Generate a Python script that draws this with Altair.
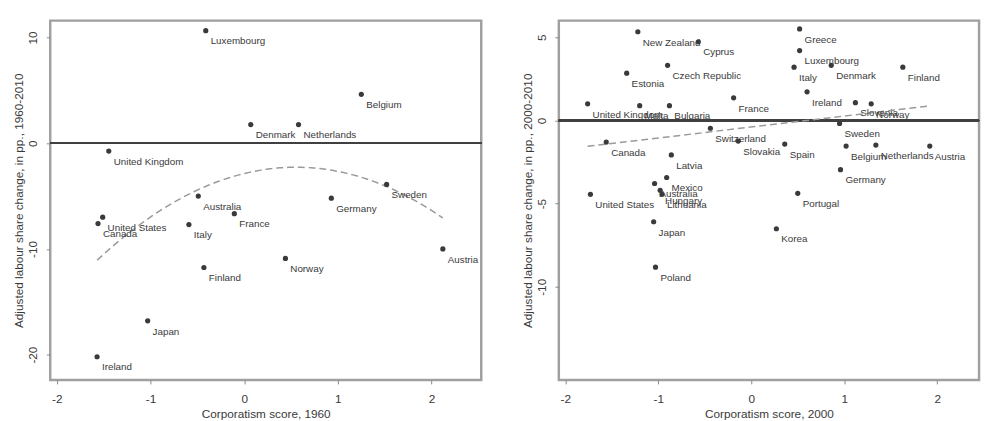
import altair as alt
import pandas as pd

# ---- Left panel: 1960 ----
left_countries = ["Luxembourg", "Belgium", "Denmark", "Netherlands", "United Kingdom",
                  "Australia", "Sweden", "Germany", "Canada", "United States", "Italy",
                  "France", "Finland", "Norway", "Austria", "Japan", "Ireland"]
left_x = [-0.41, 1.25, 0.07, 0.58, -1.445, -0.49, 1.52, 0.93, -1.56, -1.51, -0.59,
          -0.105, -0.43, 0.44, 2.12, -1.03, -1.57]
left_y = [10.65, 4.63, 1.76, 1.76, -0.74, -5.0, -3.9, -5.2, -7.6, -7.0, -7.7,
          -6.67, -11.76, -10.9, -10.0, -16.8, -20.2]

# ---- Right panel: 2000 ----
right_countries = ["New Zealand", "Cyprus", "Czech Republic", "Estonia", "United Kingdom",
                   "Malta", "Bulgaria", "France", "Canada", "Switzerland", "Latvia",
                   "Mexico", "Australia", "Hungary", "Lithuania", "United States",
                   "Japan", "Poland", "Greece", "Luxembourg", "Italy", "Denmark", "Finland",
                   "Ireland", "Slovenia", "Norway", "Sweden", "Slovakia", "Spain",
                   "Belgium", "Netherlands", "Austria", "Germany", "Portugal", "Korea"]
right_x = [-1.22, -0.57, -0.90, -1.34, -1.76, -1.20, -0.88, -0.19, -1.56, -0.44, -0.86,
           -0.91, -1.04, -0.98, -0.96, -1.73, -1.05, -1.03, 0.52, 0.52, 0.46, 0.86, 1.63,
           0.60, 1.12, 1.29, 0.95, -0.14, 0.36, 1.02, 1.34, 1.92, 0.96, 0.50, 0.27]
right_y = [5.33, 4.73, 3.31, 2.84, 1.0, 0.89, 0.89, 1.36, -1.30, -0.47, -2.07,
           -3.43, -3.79, -4.2, -4.44, -4.44, -6.09, -8.82, 5.5, 4.2, 3.2, 3.31, 3.2,
           1.72, 1.07, 1.0, -0.18, -1.24, -1.42, -1.54, -1.48, -1.54, -2.96, -4.38, -6.51]

x_ticks = [-2, -1, 0, 1, 2]
left_y_ticks = [-20, -10, 0, 10]
right_y_ticks = [-10, -5, 0, 5]

FONT = "Liberation Sans"
DOT = "#3a3a3a"
TXT = "#3a3a3a"
HYPHEN = "'' + datum.value"


def panel(names, xs, ys, xdom, ydom, yticks, xtitle, ytitle, order, width):
    df = pd.DataFrame({"country": names, "x": xs, "y": ys})
    base = alt.Chart(df)
    xenc = alt.X("x:Q", scale=alt.Scale(domain=xdom, nice=False, zero=False),
                 axis=alt.Axis(values=x_ticks, title=xtitle, labelExpr=HYPHEN,
                               labelPadding=10, titlePadding=4))
    yenc = alt.Y("y:Q", scale=alt.Scale(domain=ydom, nice=False, zero=False),
                 axis=alt.Axis(values=yticks, title=ytitle, labelAngle=270,
                               labelExpr=HYPHEN, labelPadding=7, titlePadding=1))
    zero = base.mark_rule(color="#404040", strokeWidth=1.6).encode(y=alt.datum(0))
    if order == 1:
        fit_t = base.transform_regression("x", "y", method="linear")
    else:
        fit_t = base.transform_regression("x", "y", method="poly", order=order)
    fit = fit_t.mark_line(color="#9a9a9a", strokeDash=[7, 4], strokeWidth=1.5).encode(
        x="x:Q", y="y:Q")
    pts = base.mark_circle(size=28, color=DOT, opacity=1).encode(x=xenc, y=yenc)
    lbl = base.mark_text(align="left", baseline="middle", dx=5, dy=11, fontSize=10,
                         font=FONT, color=TXT).encode(x="x:Q", y="y:Q", text="country:N")
    return alt.layer(zero, fit, pts, lbl).properties(width=width, height=366)


left = panel(left_countries, left_x, left_y, [-2.07, 2.53], [-22.4, 11.6], left_y_ticks,
             "Corporatism score, 1960",
             "Adjusted labour share change, in pp., 1960-2010", 2, 439)
right = panel(right_countries, right_x, right_y, [-2.07, 2.45], [-15.6, 6.0], right_y_ticks,
              "Corporatism score, 2000",
              "Adjusted labour share change, in pp., 2000-2010", 1, 428)

chart = alt.hconcat(left, right, spacing=36).properties(
    padding={"left": 3, "top": 7, "right": 0, "bottom": 0},
    background="white",
).configure_view(
    stroke="#a0a0a0", strokeWidth=2.5
).configure_axis(
    domain=False, grid=False, ticks=True, tickColor="#888888", tickSize=4,
    labelFont=FONT, titleFont=FONT, labelFontSize=12, titleFontSize=12,
    labelColor=TXT, titleColor=TXT, titleFontWeight="normal"
).configure_concat(spacing=36)

chart.save("out.html", embed_options={"renderer": "svg", "actions": False})
